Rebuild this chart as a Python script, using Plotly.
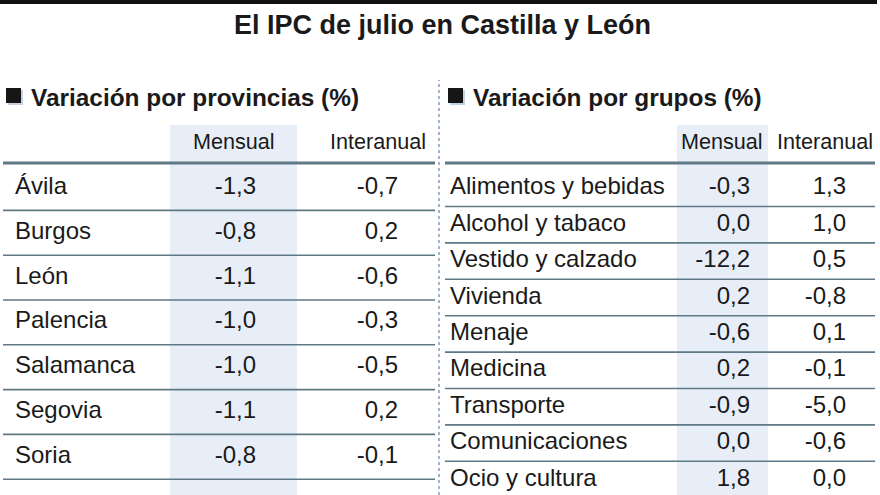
import plotly.graph_objects as go

# ---------------- data ----------------
title = "El IPC de julio en Castilla y León"
left_title = "Variación por provincias (%)"
right_title = "Variación por grupos (%)"
col_headers = ["Mensual", "Interanual"]

provincias = ["Ávila", "Burgos", "León", "Palencia", "Salamanca", "Segovia", "Soria", "Valladolid"]
prov_mensual = ["-1,3", "-0,8", "-1,1", "-1,0", "-1,0", "-1,1", "-0,8", "-0,9"]
prov_interanual = ["-0,7", "0,2", "-0,6", "-0,3", "-0,5", "0,2", "-0,1", "-0,1"]

grupos = ["Alimentos y bebidas", "Alcohol y tabaco", "Vestido y calzado", "Vivienda", "Menaje",
          "Medicina", "Transporte", "Comunicaciones", "Ocio y cultura"]
grp_mensual = ["-0,3", "0,0", "-12,2", "0,2", "-0,6", "0,2", "-0,9", "0,0", "1,8"]
grp_interanual = ["1,3", "1,0", "0,5", "-0,8", "0,1", "-0,1", "-5,0", "-0,6", "0,0"]

# ---------------- style ----------------
W, H = 880, 495
FONT = "Liberation Sans, Arial, Helvetica, sans-serif"
TXT = "#1a1a1a"
LINE = "#5f7886"
BAND = "#e7eef7"

fig = go.Figure()

def py(p):  # pixel y -> paper
    return 1 - p / H

def px(p):
    return p / W

# left table: row 0 centred at pixel L0, step LS ; right table: row 0 at R0, step RS
L0, LS = 188.0, 44.8
R0, RS = 188.3, 36.4

def text_trace(xpos, labels, pos, yaxis):
    n = len(labels)
    return go.Scatter(x=[xpos] * n, y=list(range(n)), text=labels, mode="text",
                      textposition=pos, textfont=dict(family=FONT, size=24, color=TXT),
                      cliponaxis=False, xaxis="x", yaxis=yaxis, hoverinfo="skip")

fig.add_trace(text_trace(15, provincias, "middle right", "y"))
fig.add_trace(text_trace(256, prov_mensual, "middle left", "y"))
fig.add_trace(text_trace(398, prov_interanual, "middle left", "y"))
fig.add_trace(text_trace(450, grupos, "middle right", "y2"))
fig.add_trace(text_trace(750, grp_mensual, "middle left", "y2"))
fig.add_trace(text_trace(846, grp_interanual, "middle left", "y2"))

nL, nR = len(provincias), len(grupos)

shapes = []
# top black rule
shapes.append(dict(type="rect", xref="paper", yref="paper", x0=0, x1=px(877), y0=py(4), y1=1,
                   fillcolor="#111111", line=dict(width=0), layer="below"))
# blue bands
shapes.append(dict(type="rect", xref="x", yref="paper", x0=170, x1=297, y0=0, y1=py(125),
                   fillcolor=BAND, line=dict(width=0), layer="below"))
shapes.append(dict(type="rect", xref="x", yref="paper", x0=677, x1=768, y0=0, y1=py(125),
                   fillcolor=BAND, line=dict(width=0), layer="below"))
# header rules
shapes.append(dict(type="line", xref="x", yref="paper", x0=3, x1=435, y0=py(163), y1=py(163),
                   line=dict(color=LINE, width=3)))
shapes.append(dict(type="line", xref="x", yref="paper", x0=445, x1=875, y0=py(163), y1=py(163),
                   line=dict(color=LINE, width=3)))
# row separators
for i in range(nL - 1):
    shapes.append(dict(type="line", xref="x", yref="y", x0=3, x1=435, y0=i + 0.5, y1=i + 0.5,
                       line=dict(color=LINE, width=1.6)))
for i in range(nR - 1):
    shapes.append(dict(type="line", xref="x", yref="y2", x0=445, x1=875, y0=i + 0.5, y1=i + 0.5,
                       line=dict(color=LINE, width=1.6)))
# dotted divider
shapes.append(dict(type="line", xref="x", yref="paper", x0=439, x1=439, y0=0, y1=py(80),
                   line=dict(color="#9fb4cc", width=2, dash="dot")))
# section squares (with soft shadow)
for sx in (6, 448):
    shapes.append(dict(type="rect", xref="x", yref="paper", x0=sx + 2, x1=sx + 17, y0=py(105), y1=py(90),
                       fillcolor="#c3d2e3", line=dict(width=0)))
    shapes.append(dict(type="rect", xref="x", yref="paper", x0=sx, x1=sx + 15, y0=py(103), y1=py(88),
                       fillcolor="#161616", line=dict(width=0)))

ann = []
ann.append(dict(text="<b>" + title + "</b>", x=px(442), y=py(25), xref="paper", yref="paper",
                xanchor="center", yanchor="middle", showarrow=False,
                font=dict(family=FONT, size=27, color=TXT)))
ann.append(dict(text="<b>" + left_title + "</b>", x=px(29), y=py(97), xref="paper", yref="paper",
                xanchor="left", yanchor="middle", showarrow=False,
                font=dict(family=FONT, size=24.4, color=TXT)))
ann.append(dict(text="<b>" + right_title + "</b>", x=px(471), y=py(97), xref="paper", yref="paper",
                xanchor="left", yanchor="middle", showarrow=False,
                font=dict(family=FONT, size=24.4, color=TXT)))
for txt, cx in zip(col_headers, (234, 378)):
    ann.append(dict(text=txt, x=cx, y=py(141), xref="x", yref="paper", xanchor="center",
                    yanchor="middle", showarrow=False, font=dict(family=FONT, size=21.6, color=TXT)))
for txt, cx in zip(col_headers, (722, 825)):
    ann.append(dict(text=txt, x=cx, y=py(141), xref="x", yref="paper", xanchor="center",
                    yanchor="middle", showarrow=False, font=dict(family=FONT, size=21.6, color=TXT)))

fig.update_layout(
    width=W, height=H, margin=dict(l=0, r=0, t=0, b=0),
    paper_bgcolor="white", plot_bgcolor="white", showlegend=False,
    xaxis=dict(range=[0, W], visible=False, fixedrange=True),
    # pixel 0 -> -L0/LS, pixel H -> (H-L0)/LS  (reversed so row 0 is on top)
    yaxis=dict(range=[(H - L0) / LS, -L0 / LS], visible=False, fixedrange=True, domain=[0, 1]),
    yaxis2=dict(range=[(H - R0) / RS, -R0 / RS], visible=False, fixedrange=True,
                overlaying="y", domain=[0, 1]),
    shapes=shapes, annotations=ann,
)

fig.write_html("out.html", config={"displayModeBar": False},
               post_script="document.body.style.margin='0';document.body.style.overflow='hidden';")
